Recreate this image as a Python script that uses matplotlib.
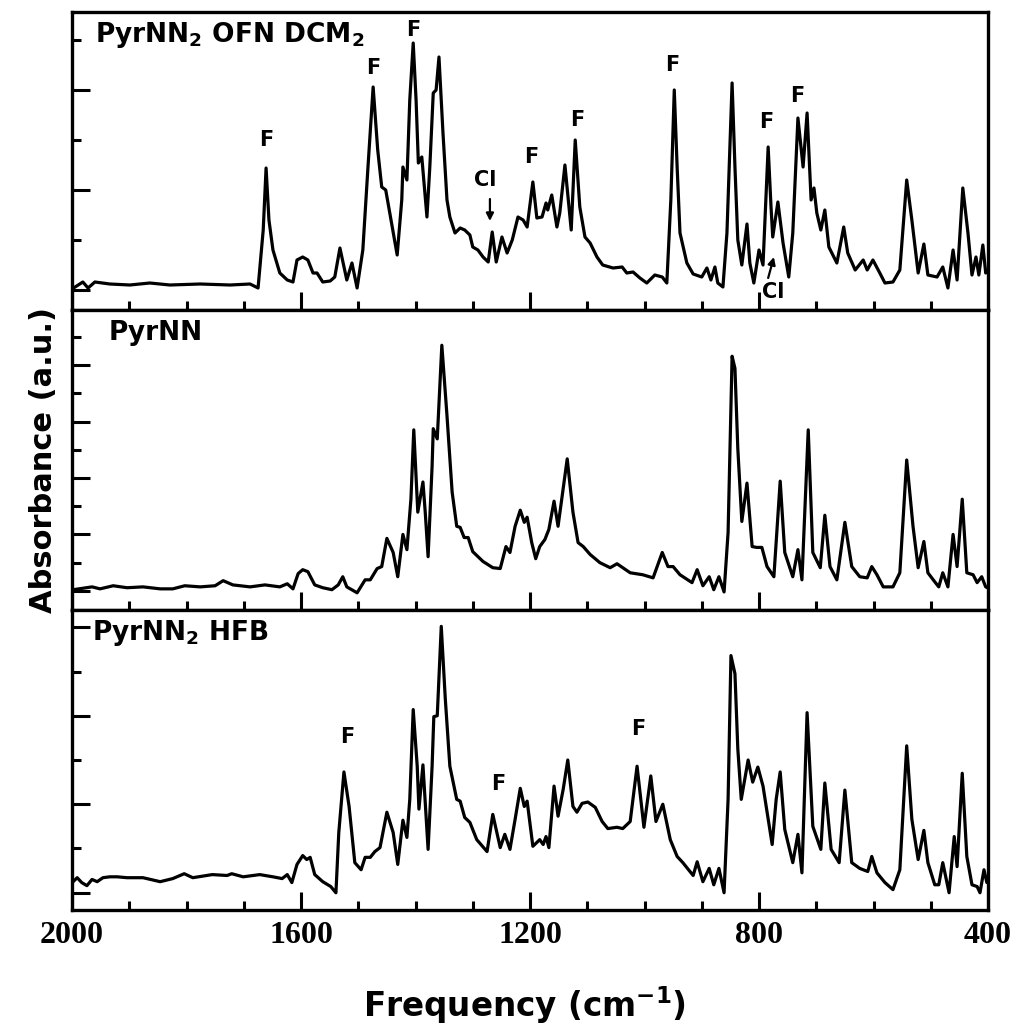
import numpy as np
import matplotlib.pyplot as plt
from matplotlib.ticker import MultipleLocator

plt.rcParams['font.family'] = 'DejaVu Sans'
plt.rcParams['font.weight'] = 'bold'
plt.rcParams['mathtext.fontset'] = 'dejavusans'
plt.rcParams['mathtext.default'] = 'bf'

# (wavenumber cm-1, absorbance a.u.)
ofn_dcm = [
    (2000, 0.02), (1981, 0.16), (1972, 0.04), (1960, 0.16), (1934, 0.12),
    (1899, 0.10), (1864, 0.14), (1829, 0.10), (1776, 0.12), (1724, 0.10),
    (1689, 0.12), (1675, 0.04), (1666, 1.2), (1661, 2.44), (1656, 1.4),
    (1649, 0.8), (1637, 0.34), (1624, 0.2), (1614, 0.16), (1607, 0.6),
    (1597, 0.66), (1588, 0.6), (1579, 0.34), (1572, 0.34), (1562, 0.16),
    (1549, 0.18), (1541, 0.26), (1532, 0.84), (1520, 0.2), (1511, 0.54),
    (1502, 0.04), (1492, 0.8), (1483, 2.46), (1474, 4.06), (1466, 2.8),
    (1459, 2.06), (1452, 2.0), (1432, 0.7), (1424, 1.8), (1422, 2.46),
    (1415, 2.2), (1410, 3.8), (1404, 4.94), (1399, 3.8), (1395, 2.54),
    (1389, 2.66), (1380, 1.46), (1375, 2.46), (1369, 3.94), (1364, 4.0),
    (1359, 4.66), (1352, 3.14), (1345, 1.8), (1340, 1.46), (1331, 1.14),
    (1322, 1.24), (1314, 1.2), (1305, 1.1), (1300, 0.86), (1291, 0.8),
    (1282, 0.66), (1273, 0.56), (1266, 1.16), (1259, 0.56), (1249, 1.06),
    (1240, 0.74), (1231, 1.0), (1221, 1.46), (1212, 1.4), (1205, 1.26),
    (1195, 2.16), (1188, 1.44), (1179, 1.46), (1172, 1.74), (1169, 1.6),
    (1162, 1.9), (1153, 1.26), (1148, 1.54), (1139, 2.5), (1128, 1.2),
    (1121, 3.0), (1113, 1.66), (1104, 1.06), (1095, 0.94), (1083, 0.66),
    (1073, 0.5), (1055, 0.44), (1039, 0.46), (1031, 0.34), (1020, 0.36),
    (1008, 0.24), (996, 0.14), (982, 0.3), (969, 0.26), (961, 0.14),
    (954, 1.8), (948, 4.0), (943, 2.46), (938, 1.14), (926, 0.54),
    (915, 0.32), (900, 0.26), (891, 0.44), (884, 0.2), (877, 0.46),
    (872, 0.14), (863, 0.06), (856, 1.14), (847, 4.14), (842, 2.46),
    (837, 1.0), (830, 0.5), (821, 1.32), (816, 0.54), (809, 0.14),
    (800, 0.8), (793, 0.5), (784, 2.86), (779, 1.66), (776, 1.06),
    (767, 1.76), (758, 0.94), (748, 0.26), (741, 1.14), (732, 3.44),
    (723, 2.46), (716, 3.54), (709, 1.8), (704, 2.04), (699, 1.54),
    (692, 1.2), (685, 1.6), (678, 0.86), (664, 0.54), (652, 1.26),
    (645, 0.74), (632, 0.4), (618, 0.6), (611, 0.4), (601, 0.6),
    (589, 0.34), (580, 0.14), (566, 0.16), (554, 0.4), (542, 2.2),
    (533, 1.4), (522, 0.34), (512, 0.92), (505, 0.3), (489, 0.26),
    (479, 0.46), (470, 0.04), (461, 0.8), (454, 0.2), (444, 2.04),
    (435, 1.14), (428, 0.3), (421, 0.66), (416, 0.3), (409, 0.9),
    (404, 0.34), (400, 0.4),
]

pyrnn = [
    (1998, 0.04), (1965, 0.14), (1951, 0.07), (1928, 0.18), (1904, 0.11),
    (1876, 0.14), (1846, 0.07), (1824, 0.07), (1803, 0.18), (1776, 0.14),
    (1750, 0.18), (1736, 0.36), (1719, 0.21), (1689, 0.14), (1663, 0.21),
    (1637, 0.14), (1624, 0.25), (1614, 0.07), (1605, 0.61), (1597, 0.75),
    (1588, 0.68), (1576, 0.21), (1562, 0.11), (1546, 0.04), (1535, 0.21),
    (1527, 0.5), (1520, 0.14), (1502, -0.07), (1488, 0.39), (1479, 0.39),
    (1467, 0.79), (1459, 0.86), (1450, 1.86), (1439, 1.36), (1431, 0.5),
    (1422, 2.0), (1415, 1.46), (1408, 3.25), (1403, 5.71), (1396, 2.79),
    (1387, 3.86), (1383, 2.79), (1378, 1.21), (1371, 4.43), (1369, 5.75),
    (1362, 5.39), (1354, 8.71), (1345, 6.21), (1336, 3.5), (1328, 2.29),
    (1322, 2.25), (1315, 1.89), (1308, 1.89), (1300, 1.39), (1282, 1.04),
    (1265, 0.82), (1252, 0.79), (1242, 1.57), (1235, 1.36), (1226, 2.29),
    (1217, 2.86), (1210, 2.43), (1205, 2.61), (1197, 1.71), (1190, 1.14),
    (1183, 1.57), (1174, 1.82), (1167, 2.18), (1158, 3.18), (1151, 2.29),
    (1135, 4.68), (1125, 2.79), (1116, 1.71), (1107, 1.57), (1095, 1.29),
    (1078, 1.0), (1060, 0.82), (1048, 0.96), (1025, 0.64), (1003, 0.57),
    (985, 0.46), (969, 1.36), (959, 0.86), (950, 0.86), (938, 0.57),
    (917, 0.29), (908, 0.75), (898, 0.18), (887, 0.5), (879, 0.04),
    (870, 0.5), (861, -0.04), (854, 2.07), (847, 8.32), (842, 7.89),
    (837, 5.04), (830, 2.46), (821, 3.82), (812, 1.57), (804, 1.54),
    (795, 1.54), (786, 0.86), (774, 0.5), (763, 3.89), (755, 1.36),
    (741, 0.5), (732, 1.46), (725, 0.39), (714, 5.71), (706, 1.36),
    (693, 0.82), (685, 2.68), (676, 0.86), (664, 0.39), (650, 2.43),
    (638, 0.86), (624, 0.5), (611, 0.46), (603, 0.86), (594, 0.57),
    (583, 0.14), (566, 0.14), (554, 0.64), (542, 4.64), (531, 2.29),
    (522, 0.82), (512, 1.75), (505, 0.64), (493, 0.32), (486, 0.14),
    (479, 0.64), (470, 0.14), (461, 2.0), (454, 0.86), (445, 3.25),
    (437, 0.64), (426, 0.57), (419, 0.29), (411, 0.5), (404, 0.14),
    (400, 0.1),
]

hfb = [
    (1998, 0.25), (1991, 0.34), (1983, 0.23), (1974, 0.16), (1965, 0.3),
    (1956, 0.25), (1946, 0.34), (1934, 0.36), (1921, 0.36), (1904, 0.34),
    (1876, 0.34), (1846, 0.25), (1824, 0.32), (1804, 0.43), (1789, 0.34),
    (1755, 0.41), (1729, 0.39), (1721, 0.43), (1701, 0.36), (1672, 0.41),
    (1649, 0.36), (1633, 0.32), (1624, 0.41), (1616, 0.23), (1607, 0.64),
    (1597, 0.84), (1590, 0.75), (1584, 0.8), (1576, 0.41), (1562, 0.25),
    (1548, 0.14), (1539, 0.0), (1534, 1.36), (1525, 2.73), (1516, 1.95),
    (1506, 0.68), (1495, 0.52), (1488, 0.8), (1479, 0.8), (1471, 0.93),
    (1462, 1.02), (1450, 1.82), (1439, 1.36), (1431, 0.64), (1422, 1.64),
    (1415, 1.25), (1410, 2.11), (1404, 4.14), (1397, 2.86), (1394, 1.89),
    (1387, 2.89), (1382, 1.82), (1378, 0.98), (1371, 2.86), (1368, 3.98),
    (1362, 4.0), (1355, 6.02), (1348, 4.39), (1340, 2.86), (1328, 2.11),
    (1322, 2.07), (1314, 1.7), (1305, 1.59), (1293, 1.2), (1275, 0.93),
    (1265, 1.77), (1252, 1.02), (1244, 1.32), (1235, 0.98), (1226, 1.66),
    (1217, 2.36), (1210, 1.95), (1205, 2.07), (1195, 1.05), (1183, 1.2),
    (1177, 1.09), (1172, 1.27), (1167, 1.02), (1158, 2.41), (1151, 1.73),
    (1142, 2.34), (1134, 3.0), (1125, 1.95), (1118, 1.82), (1109, 2.02),
    (1099, 2.05), (1086, 1.93), (1074, 1.61), (1064, 1.45), (1048, 1.48),
    (1038, 1.45), (1025, 1.61), (1013, 2.86), (1001, 1.48), (989, 2.64),
    (980, 1.61), (968, 2.0), (955, 1.2), (943, 0.82), (933, 0.68),
    (915, 0.39), (908, 0.7), (898, 0.25), (887, 0.55), (879, 0.18),
    (870, 0.55), (861, 0.0), (854, 2.11), (849, 5.36), (842, 4.95),
    (837, 3.25), (831, 2.11), (819, 3.0), (811, 2.5), (802, 2.84),
    (793, 2.41), (777, 1.09), (770, 2.11), (763, 2.73), (755, 1.43),
    (741, 0.68), (732, 1.32), (725, 0.45), (716, 4.07), (706, 1.5),
    (692, 0.98), (685, 2.48), (674, 0.98), (660, 0.68), (650, 2.32),
    (638, 0.68), (624, 0.55), (610, 0.48), (603, 0.82), (594, 0.45),
    (580, 0.23), (566, 0.07), (554, 0.52), (542, 3.32), (533, 1.66),
    (522, 0.75), (512, 1.41), (505, 0.68), (493, 0.18), (486, 0.18),
    (479, 0.68), (468, 0.0), (459, 1.27), (454, 0.59), (445, 2.7),
    (437, 0.82), (428, 0.18), (419, 0.14), (414, 0.0), (407, 0.52),
    (402, 0.23), (400, 0.3),
]

panel_names = ['PyrNN$_2$ OFN DCM$_2$', 'PyrNN', 'PyrNN$_2$ HFB']
panel_ylims = [(-0.4, 5.56), (-0.68, 9.96), (-0.39, 6.39)]
panel_label_x = [0.025, 0.040, 0.022]

# band assignments: (wavenumber, absorbance, text)
ofn_marks = [(1661, 3.0, 'F'), (1474, 4.44, 'F'), (1404, 5.2, 'F'),
             (1198, 2.66, 'F'), (1118, 3.4, 'F'), (952, 4.5, 'F'),
             (788, 3.36, 'F'), (734, 3.88, 'F')]
ofn_arrows = [('Cl', (1279, 2.2), (1270, 1.82), (1270, 1.38)),
              ('Cl', (776, -0.04), (784, 0.24), (774, 0.66))]
hfb_marks = [(1520, 3.52, 'F'), (1256, 2.45, 'F'), (1011, 3.7, 'F')]

fig = plt.figure(figsize=(10.15, 10.32), dpi=100)
left, width, h = 72 / 1015, 916 / 1015, 300 / 1032
bottoms = [1 - 310 / 1032, 1 - 610 / 1032, 1 - 910 / 1032]

axes = []
for i, data in enumerate([ofn_dcm, pyrnn, hfb]):
    ax = fig.add_axes([left, bottoms[i], width, h if i else 298 / 1032])
    wn, ab = np.array(data).T
    ax.plot(wn, ab, color='k', lw=2.3, solid_joinstyle='round')
    ax.set_xlim(2000, 400)
    ax.set_ylim(*panel_ylims[i])
    ax.xaxis.set_major_locator(MultipleLocator(400))
    ax.xaxis.set_minor_locator(MultipleLocator(100))
    ax.yaxis.set_major_locator(MultipleLocator(2))
    ax.yaxis.set_minor_locator(MultipleLocator(1))
    ax.tick_params(which='both', direction='in', top=False, right=False,
                   width=2.2, labelleft=False, labelbottom=(i == 2))
    ax.tick_params(which='major', length=13, pad=8)
    ax.tick_params(which='minor', length=6.5)
    for sp in ax.spines.values():
        sp.set_linewidth(2.4)
    ax.text(panel_label_x[i], 0.9, panel_names[i], transform=ax.transAxes,
            fontsize=19, va='baseline', ha='left')
    axes.append(ax)

for lab in axes[2].get_xticklabels():
    lab.set_fontfamily('Liberation Serif')
    lab.set_fontweight('bold')
    lab.set_fontsize(23)

for x, y, t in ofn_marks:
    axes[0].text(x, y, t, ha='center', va='center', fontsize=15)
for t, txy, tail, head in ofn_arrows:
    axes[0].text(txy[0], txy[1], t, ha='center', va='center', fontsize=15)
    axes[0].annotate('', xy=head, xytext=tail,
                     arrowprops=dict(arrowstyle='-|>', lw=1.6, color='k',
                                     mutation_scale=11, shrinkA=0, shrinkB=0))
for x, y, t in hfb_marks:
    axes[2].text(x, y, t, ha='center', va='center', fontsize=15)

fig.text(0.517, 1 - 1017 / 1032, 'Frequency (cm$^{-1}$)', fontsize=23.5,
         ha='center', va='baseline')
fig.text(0.0424, 1 - 460 / 1032, 'Absorbance (a.u.)', fontsize=22,
         rotation=90, ha='center', va='center')

fig.savefig('out.png', dpi=100)
